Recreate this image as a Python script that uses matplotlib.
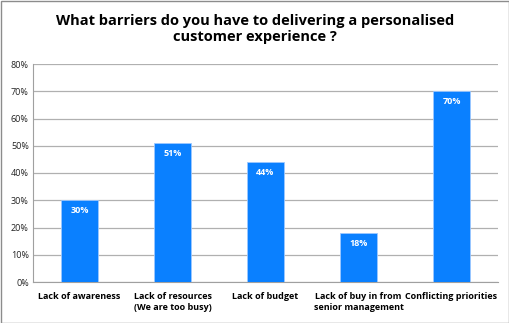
import matplotlib
matplotlib.use("Agg")
import matplotlib.pyplot as plt
from matplotlib.patches import Rectangle

categories = ["Lack of awareness", "Lack of resources\n(We are too busy)", "Lack of budget",
              "Lack of buy in from\nsenior management", "Conflicting priorities"]
values = [30, 51, 44, 18, 70]
yticks = [0, 10, 20, 30, 40, 50, 60, 70, 80]
title = "What barriers do you have to delivering a personalised\ncustomer experience ?"

fig = plt.figure(figsize=(5.10, 3.23), dpi=100)
ax = fig.add_axes([33/510, 1 - 282/323, (498 - 33)/510, (282 - 64)/323])

x = range(len(categories))
bars = ax.bar(x, values, width=0.4, color="#0A80FF", edgecolor="#9CC8FF", linewidth=0.6, zorder=3)
for xi, v in zip(x, values):
    ax.text(xi, v - 2.2, f"{v}%", ha="center", va="top", color="white",
            fontsize=6.5, fontweight="bold", family="Open Sans", zorder=4)

ax.set_xlim(-0.5, len(categories) - 0.5)
ax.set_ylim(0, 80)
ax.set_yticks(yticks)
ax.set_yticklabels([f"{t}%" for t in yticks], fontsize=6.5, family="Open Sans", color="#222222")
ax.set_xticks(list(x))
ax.set_xticklabels(categories, fontsize=6.5, fontweight="bold", family="Open Sans", linespacing=1.3)
ax.tick_params(axis="both", length=0, pad=3)
ax.tick_params(axis="x", pad=7)
ax.yaxis.grid(True, color="#B0B0B0", linewidth=0.9, zorder=0)
for s in ["top", "right"]:
    ax.spines[s].set_visible(False)
ax.spines["left"].set_color("#A0A0A0")
ax.spines["bottom"].set_color("#A0A0A0")

fig.text(0.5, 1 - 29/323, title, ha="center", va="center", fontsize=10.5, fontweight="bold",
         family="Open Sans", linespacing=1.25)

fig.patches.append(Rectangle((0.5/510, 0.5/323), 1 - 1.5/510, 1 - 1.5/323, transform=fig.transFigure,
                             fill=False, edgecolor="#8C8C8C", linewidth=1.0))

fig.savefig("out.png", dpi=100)
